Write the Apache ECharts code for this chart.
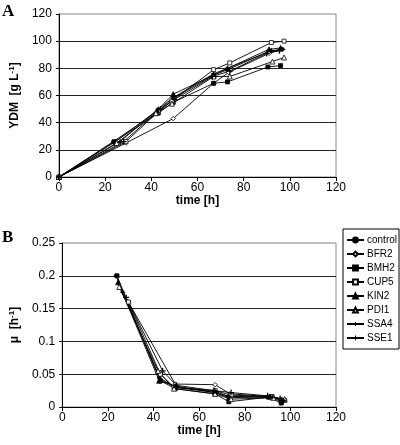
<!DOCTYPE html>
<html><head><meta charset="utf-8">
<script src="https://cdn.jsdelivr.net/npm/echarts@6/dist/echarts.min.js"></script>
<style>html,body{margin:0;padding:0;background:#fff}#c{width:400px;height:445px}</style>
</head><body><div id="c"></div>
<script>
const names = ['control','BFR2','BMH2','CUP5','KIN2','PDI1','SSA4','SSE1'];
const xTicks = [0,20,40,60,80,100,120];
// time [h] per strain
const t_control = [0,23.5,42.5,49.5,67,73,90.5,96.5];
const t_BFR2    = [0,29,49.5,67,73.5,91,96];
const t_BMH2    = [0,24,43,49.5,67,73,90.5,96];
const t_CUP5    = [0,29,43,49,67,74,92,97.5];
const t_KIN2    = [0,24.5,42.5,49.5,67,73,91,96];
const t_PDI1    = [0,25,42,49,67,74,92.5,97.5];
const t_SSA4    = [0,26.5,43,50,67,73,92,97];
const t_SSE1    = [0,28,44,50,66.5,74,90,95.5];
// YDM [g/L]
const ydm_control = [0,26,48,58,75,79,92,94];
const ydm_BFR2    = [0,25,43,69,77,91,94];
const ydm_BMH2    = [0,26,47,55,69,70,81,82];
const ydm_CUP5    = [0,26,48,56,79,84,99,100];
const ydm_KIN2    = [0,26,49,61,75,80,94,95];
const ydm_PDI1    = [0,25,47,54,74,74,85,88];
const ydm_SSA4    = [0,26,50,59,76,80,93,94];
const ydm_SSE1    = [0,26,50,57,74,78,91,93];
// mu [1/h] (first time point has none)
const mu_control = [null,0.2,0.045,0.03,0.022,0.016,0.015,0.008];
const mu_BFR2    = [null,0.16,0.035,0.034,0.02,0.016,0.012];
const mu_BMH2    = [null,0.2,0.04,0.028,0.02,0.008,0.015,0.006];
const mu_CUP5    = [null,0.16,0.05,0.03,0.025,0.018,0.016,0.01];
const mu_KIN2    = [null,0.19,0.04,0.032,0.022,0.014,0.016,0.01];
const mu_PDI1    = [null,0.183,0.055,0.028,0.02,0.012,0.014,0.012];
const mu_SSA4    = [null,0.175,0.042,0.03,0.024,0.016,0.015,0.01];
const mu_SSE1    = [null,0.167,0.055,0.033,0.025,0.022,0.017,0.013];

const T = {control:t_control,BFR2:t_BFR2,BMH2:t_BMH2,CUP5:t_CUP5,KIN2:t_KIN2,PDI1:t_PDI1,SSA4:t_SSA4,SSE1:t_SSE1};
const Y = {control:ydm_control,BFR2:ydm_BFR2,BMH2:ydm_BMH2,CUP5:ydm_CUP5,KIN2:ydm_KIN2,PDI1:ydm_PDI1,SSA4:ydm_SSA4,SSE1:ydm_SSE1};
const M = {control:mu_control,BFR2:mu_BFR2,BMH2:mu_BMH2,CUP5:mu_CUP5,KIN2:mu_KIN2,PDI1:mu_PDI1,SSA4:mu_SSA4,SSE1:mu_SSE1};

const crossPath = 'path://M4,0H6V4H10V6H6V10H4V6H0V4H4Z';
const starPath = 'path://M5,0L6.6,3.4L10,5L6.6,6.6L5,10L3.4,6.6L0,5L3.4,3.4Z';
const sym = {
  control:{s:'circle',size:3.5,fill:'#000',bw:0.8},
  BFR2:{s:'diamond',size:4.5,fill:'#fff',bw:0.8},
  BMH2:{s:'rect',size:4,fill:'#000',bw:0.8},
  CUP5:{s:'rect',size:4,fill:'#fff',bw:0.8},
  KIN2:{s:'triangle',size:5,fill:'#000',bw:0.8},
  PDI1:{s:'triangle',size:5,fill:'#fff',bw:0.8},
  SSA4:{s:starPath,size:6,fill:'#000',bw:0},
  SSE1:{s:crossPath,size:6,fill:'#000',bw:0}
};

const FONT = 'Liberation Sans';
const series = [];
names.forEach(n => {
  const st = sym[n];
  const base = {
    type:'line', name:n, symbol:st.s, symbolSize:st.size, showSymbol:true,
    lineStyle:{color:'#000',width:0.9},
    itemStyle:{color:st.fill,borderColor:'#000',borderWidth:st.bw},
    animation:false, z:3
  };
  series.push(Object.assign({}, base, {xAxisIndex:0,yAxisIndex:0,
    data:T[n].map((x,i)=>[x,Y[n][i]])}));
  series.push(Object.assign({}, base, {xAxisIndex:1,yAxisIndex:1,
    data:T[n].map((x,i)=>[x,M[n][i]]).filter(d=>d[1]!==null)}));
});

function xAxis(idx){
  return {gridIndex:idx,type:'value',min:0,max:120,interval:20,
    name:'time [h]',nameLocation:'middle',nameGap:14,
    nameTextStyle:{fontFamily:FONT,fontWeight:'bold',fontSize:12,color:'#000'},
    axisLine:{show:true,lineStyle:{color:'#000',width:1}},
    axisTick:{show:true,inside:false,length:4,lineStyle:{color:'#000'}},
    axisLabel:{fontFamily:FONT,fontSize:12,color:'#000',margin:5},
    splitLine:{show:false}};
}
const option = {
  backgroundColor:'#fff',
  animation:false,
  grid:[
    {left:55,top:14,width:281,height:163,show:true,borderColor:'#888',borderWidth:1,backgroundColor:'#fff'},
    {left:55,top:243,width:281,height:164,show:true,borderColor:'#888',borderWidth:1,backgroundColor:'#fff'}
  ],
  xAxis:[xAxis(0),xAxis(1)],
  yAxis:[
    {gridIndex:0,type:'value',min:0,max:120,interval:20,
     name:'{a|YDM  [g L}{s|-1}{a|]}',nameLocation:'middle',nameGap:32,
     nameTextStyle:{rich:{a:{fontFamily:FONT,fontWeight:'bold',fontSize:12,color:'#000'},
                          s:{fontFamily:FONT,fontWeight:'bold',fontSize:8,color:'#000',verticalAlign:'top',padding:[0,0,6,0]}}},
     axisLine:{show:true,lineStyle:{color:'#000'}},
     axisTick:{show:true,length:3,lineStyle:{color:'#000'}},
     axisLabel:{fontFamily:FONT,fontSize:12,color:'#000',margin:7},
     splitLine:{show:true,showMaxLine:false,lineStyle:{color:'#222',width:1}}},
    {gridIndex:1,type:'value',min:0,max:0.25,interval:0.05,
     name:'{a|μ  [h}{s|-1}{a|]}',nameLocation:'middle',nameGap:36,
     nameTextStyle:{rich:{a:{fontFamily:FONT,fontWeight:'bold',fontSize:12,color:'#000'},
                          s:{fontFamily:FONT,fontWeight:'bold',fontSize:8,color:'#000',verticalAlign:'top',padding:[0,0,6,0]}}},
     axisLine:{show:true,lineStyle:{color:'#000'}},
     axisTick:{show:true,length:3,lineStyle:{color:'#000'}},
     axisLabel:{fontFamily:FONT,fontSize:12,color:'#000',margin:7},
     splitLine:{show:true,showMaxLine:false,lineStyle:{color:'#222',width:1}}}
  ],
  legend:{
    data:names, orient:'vertical', left:343, top:229,
    padding:[5,2,5,3], itemGap:2, itemWidth:17, itemHeight:6,
    borderColor:'#000', borderWidth:1, backgroundColor:'#fff',
    textStyle:{fontFamily:FONT,fontSize:10,color:'#000',lineHeight:12,padding:[0,0,0,-2]},
    selectedMode:false
  },
  graphic:[
    {type:'text',left:2,top:3,style:{text:'A',font:'bold 17px "Liberation Serif"',fill:'#000'}},
    {type:'text',left:2,top:229,style:{text:'B',font:'bold 17px "Liberation Serif"',fill:'#000'}}
  ],
  series:series
};
const chart = echarts.init(document.getElementById('c'),null,{renderer:'canvas'});
chart.setOption(option);
</script></body></html>
